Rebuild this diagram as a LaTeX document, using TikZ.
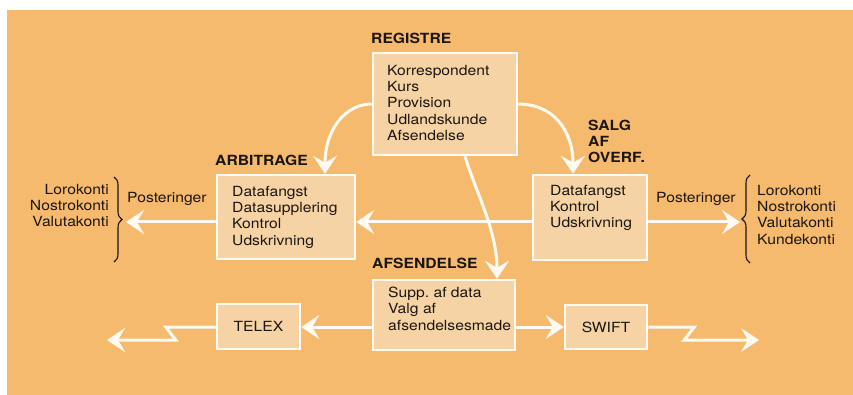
\documentclass[tikz,border=0pt]{standalone}
\usepackage{fontspec}
\setmainfont{TeX Gyre Heros}[FakeStretch=1.12]
\usetikzlibrary{arrows.meta,decorations.pathreplacing}
\definecolor{bgor}{RGB}{245,186,110}
\definecolor{boxfill}{RGB}{245,211,165}
\definecolor{linew}{RGB}{255,251,243}
\definecolor{ink}{RGB}{28,22,18}
\tikzset{
  box/.style={draw=linew, line width=2.5pt, fill=boxfill, inner sep=0pt},
  txt/.style={font=\fontsize{14}{16.2}\selectfont, text=ink, inner sep=0pt, align=left},
  lbl/.style={font=\fontsize{14}{16}\selectfont\bfseries, text=ink, inner sep=0pt, align=left},
  flow/.style={draw=linew, line width=3pt, -{Stealth[length=18pt,width=24pt,inset=7pt]}},
  curly/.style={draw=ink, line width=1.1pt, decorate, decoration={brace, amplitude=8pt}}
}
\begin{document}
\begin{tikzpicture}[x=1pt,y=-1pt]
\useasboundingbox (0,0) rectangle (853,395);
\fill[white] (0,0) rectangle (853,395);
\fill[bgor] (7,10) rectangle (853,395);

% boxes
\node[box, minimum width=144pt, minimum height=102pt] (reg) at (445,104) {};
\node[box, minimum width=138pt, minimum height=84pt] (arb) at (286,217) {};
\node[box, minimum width=114pt, minimum height=85pt] (salg) at (590,217.5) {};
\node[box, minimum width=142pt, minimum height=70pt] (afs) at (444,315) {};
\node[box, minimum width=83pt, minimum height=45pt, txt] (telex) at (258.5,326.5) {TELEX};
\node[box, minimum width=82pt, minimum height=44pt, txt] (swift) at (606,327) {SWIFT};

% box texts
\node[txt, anchor=north west] (regtxt) at (387,65) {Korrespondent\\Kurs\\Provision\\Udlandskunde\\Afsendelse};
\node[txt, anchor=north west] (arbtxt) at (232,186) {Datafangst\\Datasupplering\\Kontrol\\Udskrivning};
\node[txt, anchor=north west] (salgtxt) at (550,185) {Datafangst\\Kontrol\\Udskrivning};
\node[txt, anchor=north west] (afstxt) at (388,287) {Supp.\ af data\\Valg af\\afsendelsesmade};

% labels
\node[lbl, anchor=base west] (regl) at (371,44) {REGISTRE};
\node[lbl, anchor=base west] (arbl) at (215,166) {ARBITRAGE};
\node[lbl, anchor=north west] (salgl) at (588,120) {SALG\\AF\\OVERF.};
\node[lbl, anchor=base west] (afsl) at (372,268) {AFSENDELSE};

% side texts
\node[txt, anchor=base west] (lpost) at (127,203) {Posteringer};
\node[txt, anchor=base west] (rpost) at (656,203) {Posteringer};
\node[txt, anchor=north east, align=right] (llist) at (109,184) {Lorokonti\\Nostrokonti\\Valutakonti};
\node[txt, anchor=north west] (rlist) at (757,185) {Lorokonti\\Nostrokonti\\Valutakonti\\Kundekonti};

% braces
\draw[curly] (114,177) -- (114,262);
\draw[curly] (750,263) -- (750,175);

% coordinates
\coordinate (row) at (0,222);
\coordinate (lowrow) at (0,327);
\coordinate (lbr) at (126,222);
\coordinate (rbr) at (740,222);
\coordinate (lz) at (107,340);
\coordinate (rz) at (759,340);

% arrows
\draw[flow] (reg.west) .. controls (345,104) and (325,130) .. ([xshift=39pt]arb.north);
\draw[flow] (reg.east) .. controls (553,104) and (573,130) .. ([xshift=-17pt]salg.north);
\draw[flow] ([xshift=20pt]reg.south) .. controls (475,190) and (497,230) .. ([xshift=53pt]afs.north);
\draw[flow] (arb.west |- row) -- (lbr);
\draw[flow] (salg.west |- row) -- (arb.east |- row);
\draw[flow] (salg.east |- row) -- (rbr);
\draw[flow] (afs.west |- lowrow) -- (telex.east |- lowrow);
\draw[flow] (afs.east |- lowrow) -- (swift.west |- lowrow);
\draw[flow] (telex.west |- lowrow) -- ++(-50,0) -- ++(10,13) -- (lz);
\draw[flow] (swift.east |- lowrow) -- ++(46,0) -- ++(-10,13) -- (rz);
\end{tikzpicture}
\end{document}
